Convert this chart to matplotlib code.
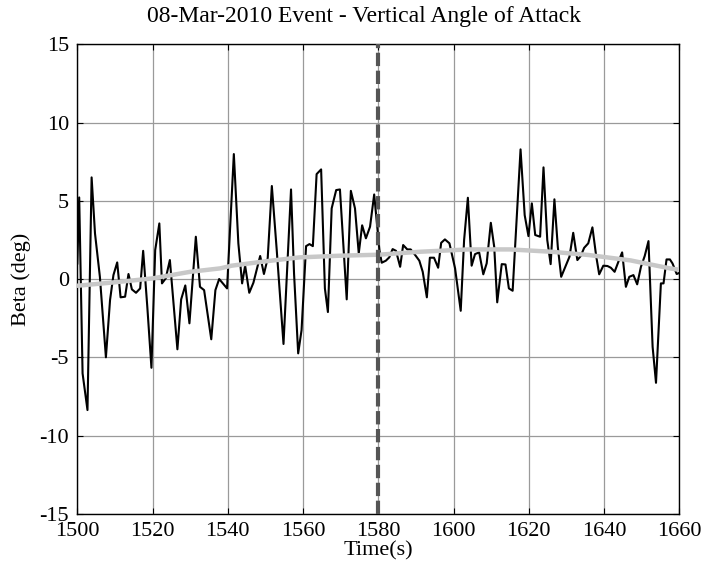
import matplotlib
matplotlib.use('Agg')
import matplotlib.pyplot as plt
import numpy as np

# measured beta samples
t = [1500.0, 1500.5, 1501.4, 1502.7, 1503.8, 1504.7, 1506.0, 1507.6, 1508.7, 1509.6,
     1510.6, 1511.5, 1512.7, 1513.6, 1514.5, 1515.6, 1516.7, 1517.5, 1518.6, 1519.7,
     1520.7, 1521.8, 1522.5, 1523.5, 1524.6, 1526.6, 1527.6, 1528.7, 1529.8, 1531.5,
     1532.6, 1533.7, 1535.6, 1536.7, 1537.7, 1539.8, 1541.6, 1542.8, 1543.8, 1544.6,
     1545.7, 1546.8, 1548.6, 1549.6, 1550.6, 1551.7, 1553.0, 1554.8, 1556.8, 1557.6,
     1558.7, 1559.6, 1560.8, 1561.7, 1562.6, 1563.6, 1564.8, 1565.8, 1566.6, 1567.6,
     1568.8, 1569.8, 1571.6, 1572.7, 1573.8, 1574.8, 1575.7, 1576.7, 1577.8, 1578.9,
     1580.3, 1580.9, 1582.0, 1582.9, 1583.8, 1584.7, 1585.8, 1586.6, 1587.7, 1588.6,
     1589.8, 1590.9, 1591.8, 1592.9, 1593.7, 1594.8, 1595.9, 1596.7, 1597.7, 1598.9,
     1600.4, 1601.9, 1602.8, 1603.8, 1604.8, 1605.7, 1606.8, 1607.9, 1608.8, 1609.9,
     1610.8, 1611.6, 1612.8, 1613.8, 1614.7, 1615.7, 1617.8, 1618.9, 1619.9, 1620.8,
     1621.7, 1623.0, 1623.9, 1624.9, 1625.8, 1626.8, 1627.7, 1628.6, 1629.7, 1630.8,
     1631.8, 1632.9, 1633.8, 1634.7, 1635.8, 1636.9, 1637.9, 1638.7, 1639.8, 1640.9,
     1641.8, 1642.8, 1643.8, 1644.8, 1645.8, 1646.7, 1647.8, 1648.8, 1649.8, 1650.8,
     1651.8, 1652.9, 1653.8, 1655.1, 1655.8, 1656.6, 1657.5, 1658.2, 1659.3, 1660.0]
beta = [1.0, 5.22, -6.02, -8.36, 6.5, 2.92, 0.15, -4.99, -1.33, 0.26,
        1.07, -1.16, -1.12, 0.33, -0.65, -0.87, -0.59, 1.81, -1.76, -5.66,
        1.86, 3.56, -0.27, 0.05, 1.22, -4.48, -1.29, -0.4, -2.82, 2.71,
        -0.49, -0.7, -3.84, -0.7, 0.01, -0.59, 7.99, 2.29, -0.27, 0.86,
        -0.87, -0.23, 1.48, 0.33, 1.33, 5.95, 1.86, -4.14, 5.73, 0.37,
        -4.74, -3.25, 2.11, 2.24, 2.11, 6.71, 7.01, -0.59, -2.1, 4.52,
        5.69, 5.73, -1.29, 5.64, 4.52, 1.65, 3.44, 2.61, 3.35, 5.41,
        1.86, 1.05, 1.18, 1.39, 1.92, 1.81, 0.79, 2.18, 1.9, 1.9,
        1.54, 1.18, 0.47, -1.16, 1.37, 1.37, 0.73, 2.32, 2.54, 2.29,
        0.69, -2.02, 2.5, 5.2, 0.86, 1.6, 1.71, 0.31, 1.01, 3.6,
        2.07, -1.48, 0.96, 0.94, -0.59, -0.74, 8.29, 4.09, 2.75, 4.84,
        2.82, 2.71, 7.14, 2.5, 0.96, 5.1, 2.07, 0.15, 0.79, 1.43,
        2.96, 1.22, 1.48, 2.0, 2.29, 3.31, 1.48, 0.31, 0.86, 0.84,
        0.73, 0.47, 1.11, 1.71, -0.49, 0.15, 0.26, -0.33, 0.79, 1.48,
        2.43, -4.32, -6.62, -0.27, -0.27, 1.26, 1.26, 1.0, 0.33, 0.4]

# smoothed mean
t_mean = [1500, 1510, 1520, 1530, 1538, 1541, 1549, 1559, 1570, 1580,
          1591, 1604, 1615, 1626, 1636, 1647, 1657.5, 1660]
beta_mean = [-0.42, -0.2, 0.05, 0.47, 0.69, 0.86, 1.11, 1.39, 1.5, 1.56,
             1.75, 1.9, 1.9, 1.75, 1.54, 1.2, 0.69, 0.6]

event_t = 1580

plt.rcParams['font.family'] = ['Liberation Serif', 'DejaVu Serif']
plt.rcParams['axes.unicode_minus'] = False

fig = plt.figure(figsize=(7.08, 5.74), dpi=100)
ax = fig.add_axes([0.1092, 0.1045, 0.8503, 0.8183])

ax.grid(True, color='#9a9a9a', linewidth=0.9, linestyle='-')
ax.set_axisbelow(True)
ax.plot(t, beta, color='black', linewidth=1.5, zorder=3)
ax.plot(t_mean, beta_mean, color='#c8c8c8', linewidth=3.2, zorder=4)
ax.axvline(event_t, color='#555555', linewidth=3, linestyle=(0, (3.2, 1.1)), zorder=5)

ax.set_xlim(1500, 1660)
ax.set_ylim(-15, 15)
ax.set_xticks(np.arange(1500, 1661, 20))
ax.set_yticks(np.arange(-15, 16, 5))
ax.tick_params(direction='in', length=4, width=0.8, top=True, right=True,
               labelsize=16)
ax.tick_params(axis='x', pad=6)
ax.tick_params(axis='y', pad=6)
for s in ax.spines.values():
    s.set_linewidth(1.0)

ax.set_title('08-Mar-2010 Event - Vertical Angle of Attack', fontsize=17,
             pad=16, x=0.476)
ax.set_xlabel('Time(s)', fontsize=16, labelpad=0)
ax.set_ylabel('Beta (deg)', fontsize=16, labelpad=6)

fig.savefig('out.png', dpi=100)
